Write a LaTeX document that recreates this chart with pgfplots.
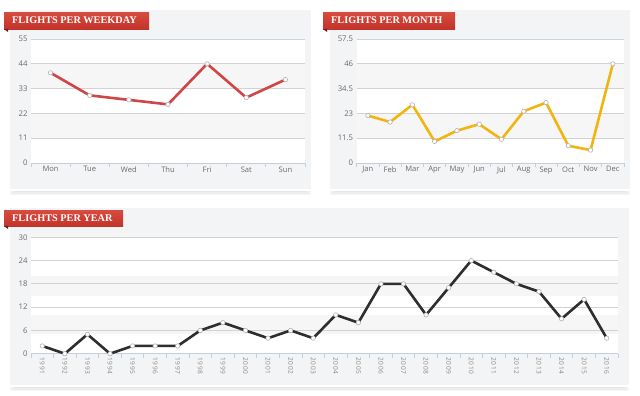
\documentclass[border=0pt]{standalone}
\usepackage{fontspec}
\setmainfont{Open Sans}
\newfontfamily\titlefont{Liberation Serif}
\usepackage{pgfplots}
\pgfplotsset{compat=1.18}

\definecolor{ribbon}{HTML}{C2342A}
\definecolor{ribbonlight}{HTML}{D84B3E}
\definecolor{fold}{HTML}{701A12}
\definecolor{cardbg}{HTML}{F3F4F5}
\definecolor{gridc}{HTML}{D2D2D2}
\definecolor{axisc}{HTML}{C3CFDB}
\definecolor{tickc}{HTML}{6A6A6A}
\definecolor{redl}{HTML}{D04545}
\definecolor{yell}{HTML}{F2B50F}
\definecolor{darkl}{HTML}{2E2E2E}
\definecolor{band}{HTML}{F6F6F7}

\pgfplotsset{
  panel/.style={
    scale only axis, anchor=south west, clip=false,
    axis x line*=bottom, axis y line*=left,
    x axis line style={draw=axisc, line width=0.8bp, -},
    y axis line style={draw=none},
    ymajorgrids, grid style={draw=gridc, line width=0.8bp},
    major tick length=0pt, minor tick length=4bp, tick align=outside,
    minor tick style={draw=axisc, line width=0.8bp},
    tick label style={font=\fontsize{7.6}{9}\selectfont, text=tickc},
    y tick label style={font=\fontsize{7.8}{9}\selectfont},
    /pgf/number format/assume math mode=true,
    ymin=0, xtick=data,
  },
  series/.style={line width=2.6bp, mark=*, mark size=2.2bp,
    mark options={fill=white, draw=gray!60, line width=0.6bp, solid}},
}

\newcommand{\card}[4]{% x1 y1 x2 y2 (image px, y down)
  \fill[black!4] (#1bp+1bp,-#4bp-5bp) rectangle (#3bp-1bp,-#4bp+2bp);
  \fill[black!7] (#1bp+3bp,-#4bp-3.5bp) rectangle (#3bp-3bp,-#4bp+2bp);
  \fill[black!10] (#1bp+6bp,-#4bp-2bp) rectangle (#3bp-6bp,-#4bp+2bp);
  \filldraw[fill=cardbg, draw=white, line width=2bp] (#1bp,-#2bp) rectangle (#3bp,-#4bp);
}
% plot area background: x1 x2 ytop ybottom, then two bands
\newcommand{\plotbg}[8]{%
  \fill[white] (#1bp,-#3bp) rectangle (#2bp,-#4bp);
  \fill[band] (#1bp,-#5bp) rectangle (#2bp,-#6bp);
  \fill[band] (#1bp,-#7bp) rectangle (#2bp,-#8bp);
}
\newcommand{\ribbontitle}[5]{% x1 y1 x2 y2 text
  \shade[top color=ribbonlight, bottom color=ribbon] (#1bp,-#2bp) rectangle (#3bp,-#4bp);
  \fill[fold] (#1bp,-#4bp) -- (#1bp+4bp,-#4bp) -- (#1bp+4bp,-#4bp-3bp) -- cycle;
  \node[anchor=west, text=white, inner sep=0pt,
    font=\titlefont\bfseries\fontsize{10.3}{12}\selectfont]
    at (#1bp+8bp,{-(#2bp+#4bp)/2}) {#5};
}

\begin{document}
\begin{tikzpicture}
\fill[white] (0,0) rectangle (640bp,-396bp);

\card{9}{9}{312}{190}
\card{329}{9}{631}{190}
\card{9}{207}{630}{386}

\plotbg{31}{305}{39}{163}{138.2}{113.4}{88.6}{63.8}
\plotbg{356.7}{624}{39}{163}{138.2}{113.4}{88.6}{63.8}
\plotbg{31}{618}{237.3}{353.7}{334.3}{314.9}{295.5}{276.1}

% ---------- weekday ----------
\begin{axis}[panel, at={(31bp,-163bp)}, width=274bp, height=124bp,
  xmin=-0.5, xmax=6.5, ymax=55, ytick={0,11,22,33,44,55},
  xticklabels={Mon,Tue,Wed,Thu,Fri,Sat,Sun},
  minor xtick={-0.5,0.5,...,6.5}]
  \addplot[series, color=redl] coordinates {
    (0,40) (1,30) (2,28) (3,26) (4,44) (5,29) (6,37)};
\end{axis}

% ---------- month ----------
\begin{axis}[panel, at={(356.7bp,-163bp)}, width=267.3bp, height=124bp,
  xmin=-0.5, xmax=11.5, ymax=57.5, ytick={0,11.5,23,34.5,46,57.5},
  xticklabels={Jan,Feb,Mar,Apr,May,Jun,Jul,Aug,Sep,Oct,Nov,Dec},
  minor xtick={-0.5,0.5,...,11.5}]
  \addplot[series, color=yell] coordinates {
    (0,22) (1,19) (2,27) (3,10) (4,15) (5,18) (6,11) (7,24) (8,28) (9,8) (10,6) (11,46)};
\end{axis}

% ---------- year ----------
\begin{axis}[panel, at={(31bp,-353.7bp)}, width=587bp, height=116.4bp,
  xmin=-0.5, xmax=25.5, ymax=30, ytick={0,6,12,18,24,30},
  xticklabels={1991,1992,1993,1994,1995,1996,1997,1998,1999,2000,2001,2002,2003,
    2004,2005,2006,2007,2008,2009,2010,2011,2012,2013,2014,2015,2016},
  x tick label style={rotate=-90, anchor=west, text=tickc!80,
    font=\addfontfeature{LetterSpace=10}\fontsize{6.6}{8}\selectfont},
  minor xtick={-0.5,0.5,...,25.5}]
  \addplot[series, color=darkl] coordinates {
    (0,2) (1,0) (2,5) (3,0) (4,2) (5,2) (6,2) (7,6) (8,8) (9,6) (10,4) (11,6) (12,4)
    (13,10) (14,8) (15,18) (16,18) (17,10) (18,17) (19,24) (20,21) (21,18) (22,16)
    (23,9) (24,14) (25,4)};
\end{axis}

\ribbontitle{4}{12}{149}{29}{FLIGHTS PER WEEKDAY}
\ribbontitle{323}{12}{455}{29}{FLIGHTS PER MONTH}
\ribbontitle{4}{210}{123}{226}{FLIGHTS PER YEAR}
\end{tikzpicture}
\end{document}
